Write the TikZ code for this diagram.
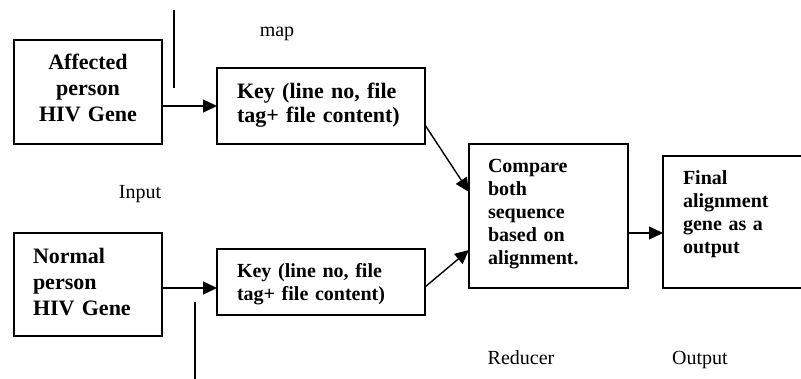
\documentclass[tikz,border=0pt]{standalone}
\usepackage{fontspec}
\setmainfont{Liberation Serif}
\usetikzlibrary{arrows.meta}

\begin{document}
\begin{tikzpicture}[
        x=1pt, y=-1pt,
        >={Triangle[length=14pt, width=13pt]},
        blk/.style={draw, line width=1.5pt, anchor=north west, inner xsep=20pt, inner ysep=0pt, outer sep=0pt, align=left},
        bigtxt/.style={font=\fontsize{22}{26}\selectfont\bfseries},
        smalltxt/.style={font=\fontsize{20}{23}\selectfont\bfseries},
        lbl/.style={font=\fontsize{20}{24}\selectfont, inner sep=0pt, anchor=base},
        arr/.style={->, line width=1.4pt},
        tick/.style={line width=1.5pt},
    ]
    \useasboundingbox (0,0) rectangle (801,379);

    %% Input genes
    \node[blk, bigtxt, align=center, inner xsep=19pt, text width=110pt, text height=30pt, text depth=74pt] (aff) at (14,40) {Affected\\person\\HIV Gene};
    \node[blk, bigtxt, inner xsep=19pt, text width=110pt, text height=31pt, text depth=72pt] (norm) at (14,233) {Normal\\person\\HIV Gene};

    %% Map stage
    \node[blk, font=\fontsize{22}{24}\selectfont\bfseries, text width=168pt, text height=31pt, text depth=45pt] (key1) at (217,68) {Key (line no, file\\tag+ file content)};
    \node[blk, smalltxt, text width=168pt, text height=29pt, text depth=37pt] (key2) at (217,249) {Key (line no, file\\tag+ file content)};

    %% Reduce stage
    \node[blk, smalltxt, inner xsep=19pt, text width=121pt, text height=29pt, text depth=115pt] (cmp) at (469,144) {Compare\\both\\sequence\\based on\\alignment.};
    \node[blk, smalltxt, text width=130pt, text height=29pt, text depth=103pt] (fin) at (663,156) {Final\\alignment\\gene as a\\output};

    %% Arrows
    \coordinate (k2in) at ([yshift=-6pt]key2.west);
    \coordinate (cmpout) at ([yshift=-17pt]cmp.east);
    \draw[arr] (aff.east |- key1.west) -- (key1.west);
    \draw[arr] (norm.east |- k2in) -- (k2in);
    \draw[arr] ([yshift=-19pt]key1.east) -- ([yshift=24pt]cmp.west);
    \draw[arr] ([yshift=-5pt]key2.east) -- ([yshift=-34pt]cmp.west);
    \draw[arr] (cmpout) -- (cmpout -| fin.west);

    %% Stage separators
    \coordinate (septop) at (174,10);
    \coordinate (sepmid) at (174,88);
    \coordinate (sepbot) at (195,302);
    \coordinate (sepend) at (195,381);
    \draw[tick] (septop) -- (sepmid);
    \draw[tick] (sepbot) -- (sepend);

    %% Stage labels
    \node[lbl] (map) at (277,37) {map};
    \node[lbl] (inp) at (140,199) {Input};
    \node[lbl] (red) at (521,365) {Reducer};
    \node[lbl] (outp) at (700,365) {Output};

\end{tikzpicture}
\end{document}
